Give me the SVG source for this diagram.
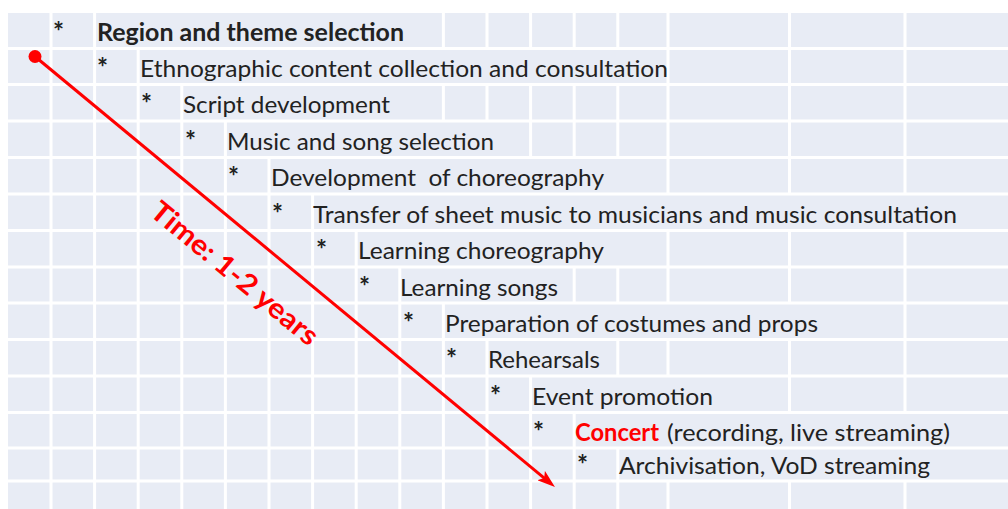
<svg xmlns="http://www.w3.org/2000/svg" width="1008" height="509" viewBox="0 0 1008 509">
  <style>
    .cell { fill: #E8ECF5; }
    .grid { stroke: #FFFFFF; stroke-width: 3; }
    .t { font-family: Lato, "Open Sans", "Liberation Sans", sans-serif; font-size: 24px; fill: #222222; }
    .b { font-weight: bold; }
    .star { font-family: Lato, "Open Sans", "Liberation Sans", sans-serif; font-size: 26px; font-weight: bold; fill: #222222; }
    .red { fill: #FF0000; }
    .time { font-family: Lato, "Open Sans", "Liberation Sans", sans-serif; font-size: 28px; font-weight: bold; fill: #FF0000; }
    .arrow { stroke: #FF0000; stroke-width: 3; fill: none; }
  </style>
  <defs>
    <marker id="ah" viewBox="0 0 18 12" refX="10" refY="6" markerWidth="18" markerHeight="12" markerUnits="userSpaceOnUse" orient="auto">
      <path d="M0,0 L18,6 L0,12 L4,6 z" fill="#FF0000"/>
    </marker>
  </defs>

  <rect width="1008" height="509" fill="#FFFFFF"/>

  <!-- table body -->
  <g id="table">
    <rect class="cell" x="8" y="13" width="1000" height="496"/>
    <!-- row separators -->
    <g class="grid">
      <line x1="8" y1="48.5" x2="1008" y2="48.5"/>
      <line x1="8" y1="84.5" x2="1008" y2="84.5"/>
      <line x1="8" y1="121" x2="1008" y2="121"/>
      <line x1="8" y1="157.5" x2="1008" y2="157.5"/>
      <line x1="8" y1="194" x2="1008" y2="194"/>
      <line x1="8" y1="230.5" x2="1008" y2="230.5"/>
      <line x1="8" y1="267" x2="1008" y2="267"/>
      <line x1="8" y1="303" x2="1008" y2="303"/>
      <line x1="8" y1="339.5" x2="1008" y2="339.5"/>
      <line x1="8" y1="376" x2="1008" y2="376"/>
      <line x1="8" y1="412.5" x2="1008" y2="412.5"/>
      <line x1="8" y1="448" x2="1008" y2="448"/>
      <line x1="8" y1="481" x2="1008" y2="481"/>
    </g>
    <!-- column separators, one path per row -->
    <g class="grid">
      <path d="M51,13V48.5 M94.6,13V48.5 M443.4,13V48.5 M487,13V48.5 M530.6,13V48.5 M574.2,13V48.5 M617.8,13V48.5 M668,13V48.5 M789.5,13V48.5 M905,13V48.5"/>
      <path d="M51,48.5V84.5 M94.6,48.5V84.5 M138.2,48.5V84.5 M668,48.5V84.5 M789.5,48.5V84.5 M905,48.5V84.5"/>
      <path d="M51,84.5V121 M94.6,84.5V121 M138.2,84.5V121 M181.8,84.5V121 M443.4,84.5V121 M487,84.5V121 M530.6,84.5V121 M574.2,84.5V121 M617.8,84.5V121 M668,84.5V121 M789.5,84.5V121 M905,84.5V121"/>
      <path d="M51,121V157.5 M94.6,121V157.5 M138.2,121V157.5 M181.8,121V157.5 M225.4,121V157.5 M530.6,121V157.5 M574.2,121V157.5 M617.8,121V157.5 M668,121V157.5 M789.5,121V157.5 M905,121V157.5"/>
      <path d="M51,157.5V194 M94.6,157.5V194 M138.2,157.5V194 M181.8,157.5V194 M225.4,157.5V194 M269,157.5V194 M668,157.5V194 M789.5,157.5V194 M905,157.5V194"/>
      <path d="M51,194V230.5 M94.6,194V230.5 M138.2,194V230.5 M181.8,194V230.5 M225.4,194V230.5 M269,194V230.5 M312.6,194V230.5"/>
      <path d="M51,230.5V267 M94.6,230.5V267 M138.2,230.5V267 M181.8,230.5V267 M225.4,230.5V267 M269,230.5V267 M312.6,230.5V267 M356.2,230.5V267 M668,230.5V267 M789.5,230.5V267 M905,230.5V267"/>
      <path d="M51,267V303 M94.6,267V303 M138.2,267V303 M181.8,267V303 M225.4,267V303 M269,267V303 M312.6,267V303 M356.2,267V303 M399.8,267V303 M574.2,267V303 M617.8,267V303 M668,267V303 M789.5,267V303 M905,267V303"/>
      <path d="M51,303V339.5 M94.6,303V339.5 M138.2,303V339.5 M181.8,303V339.5 M225.4,303V339.5 M269,303V339.5 M312.6,303V339.5 M356.2,303V339.5 M399.8,303V339.5 M443.4,303V339.5 M905,303V339.5"/>
      <path d="M51,339.5V376 M94.6,339.5V376 M138.2,339.5V376 M181.8,339.5V376 M225.4,339.5V376 M269,339.5V376 M312.6,339.5V376 M356.2,339.5V376 M399.8,339.5V376 M443.4,339.5V376 M487,339.5V376 M617.8,339.5V376 M668,339.5V376 M789.5,339.5V376 M905,339.5V376"/>
      <path d="M51,376V412.5 M94.6,376V412.5 M138.2,376V412.5 M181.8,376V412.5 M225.4,376V412.5 M269,376V412.5 M312.6,376V412.5 M356.2,376V412.5 M399.8,376V412.5 M443.4,376V412.5 M487,376V412.5 M530.6,376V412.5 M789.5,376V412.5 M905,376V412.5"/>
      <path d="M51,412.5V448 M94.6,412.5V448 M138.2,412.5V448 M181.8,412.5V448 M225.4,412.5V448 M269,412.5V448 M312.6,412.5V448 M356.2,412.5V448 M399.8,412.5V448 M443.4,412.5V448 M487,412.5V448 M530.6,412.5V448 M574.2,412.5V448"/>
      <path d="M51,448V481 M94.6,448V481 M138.2,448V481 M181.8,448V481 M225.4,448V481 M269,448V481 M312.6,448V481 M356.2,448V481 M399.8,448V481 M443.4,448V481 M487,448V481 M530.6,448V481 M574.2,448V481 M617.8,448V481"/>
      <path d="M51,481V509 M94.6,481V509 M138.2,481V509 M181.8,481V509 M225.4,481V509 M269,481V509 M312.6,481V509 M356.2,481V509 M399.8,481V509 M443.4,481V509 M487,481V509 M530.6,481V509 M574.2,481V509 M617.8,481V509 M668,481V509 M789.5,481V509 M905,481V509"/>
    </g>
  </g>

  <!-- task steps -->
  <g id="step1"><text class="star" x="53" y="40.5">*</text><text class="t b" x="97" y="40.5" textLength="307" lengthAdjust="spacingAndGlyphs">Region and theme selection</text></g>
  <g id="step2"><text class="star" x="97" y="77">*</text><text class="t" x="140" y="77" textLength="528" lengthAdjust="spacingAndGlyphs">Ethnographic content collection and consultation</text></g>
  <g id="step3"><text class="star" x="141" y="113.3">*</text><text class="t" x="183" y="113.3" textLength="207" lengthAdjust="spacingAndGlyphs">Script development</text></g>
  <g id="step4"><text class="star" x="185" y="149.8">*</text><text class="t" x="227" y="149.8" textLength="267" lengthAdjust="spacingAndGlyphs">Music and song selection</text></g>
  <g id="step5"><text class="star" x="228" y="186.3">*</text><text class="t" x="271" y="186.3" textLength="333" lengthAdjust="spacingAndGlyphs" xml:space="preserve">Development  of choreography</text></g>
  <g id="step6"><text class="star" x="272" y="222.8">*</text><text class="t" x="313" y="222.8" textLength="644" lengthAdjust="spacingAndGlyphs">Transfer of sheet music to musicians and music consultation</text></g>
  <g id="step7"><text class="star" x="316" y="259.3">*</text><text class="t" x="358" y="259.3" textLength="246" lengthAdjust="spacingAndGlyphs">Learning choreography</text></g>
  <g id="step8"><text class="star" x="359" y="295.5">*</text><text class="t" x="400" y="295.5" textLength="158" lengthAdjust="spacingAndGlyphs">Learning songs</text></g>
  <g id="step9"><text class="star" x="403" y="331.8">*</text><text class="t" x="445" y="331.8" textLength="373" lengthAdjust="spacingAndGlyphs">Preparation of costumes and props</text></g>
  <g id="step10"><text class="star" x="446" y="368.3">*</text><text class="t" x="488" y="368.3" textLength="112" lengthAdjust="spacingAndGlyphs">Rehearsals</text></g>
  <g id="step11"><text class="star" x="490" y="404.8">*</text><text class="t" x="532" y="404.8" textLength="181" lengthAdjust="spacingAndGlyphs">Event promotion</text></g>
  <g id="step12"><text class="star" x="533" y="440.5">*</text><text class="t red b" x="575" y="440.5" textLength="84" lengthAdjust="spacingAndGlyphs">Concert</text><text class="t" x="667" y="440.5" textLength="283" lengthAdjust="spacingAndGlyphs">(recording, live streaming)</text></g>
  <g id="step13"><text class="star" x="577" y="474">*</text><text class="t" x="619" y="474" textLength="311" lengthAdjust="spacingAndGlyphs">Archivisation, VoD streaming</text></g>

  <!-- time span connector -->
  <g id="connectors">
    <line class="arrow" x1="35" y1="56.5" x2="548.8" y2="481.9" marker-end="url(#ah)"/>
    <circle cx="35" cy="56.5" r="6.5" fill="#FF0000"/>
  </g>
  <g id="time-label">
    <text class="time" transform="translate(235,273) rotate(39.6)" x="0" y="10" text-anchor="middle" textLength="208" lengthAdjust="spacingAndGlyphs">Time: 1-2 years</text>
  </g>
</svg>
